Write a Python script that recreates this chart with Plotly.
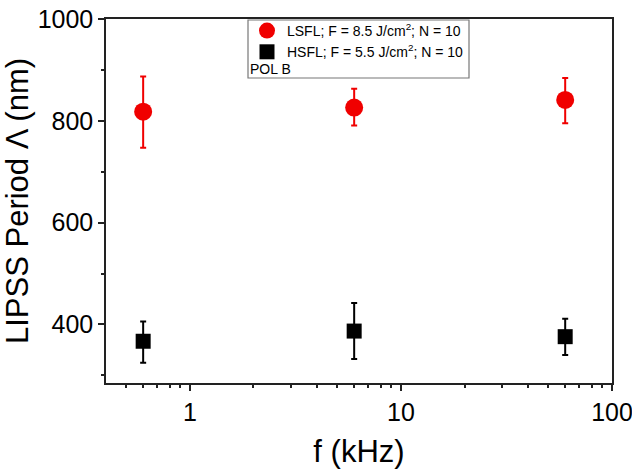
import numpy as np
import plotly.graph_objects as go

freq = [0.6, 6, 60]
lsfl = [818, 826, 841]
lsfl_up = [69, 37, 43]
lsfl_dn = [71, 35, 46]
hsfl = [367, 387, 376]
hsfl_up = [39, 55, 35]
hsfl_dn = [42, 55, 36]

lsfl_name = "LSFL; F = 8.5 J/cm<sup>2</sup>; N = 10"
hsfl_name = "HSFL; F = 5.5 J/cm<sup>2</sup>; N = 10"

fig = go.Figure()
fig.add_trace(go.Scatter(
    x=freq, y=lsfl, mode="markers", name=lsfl_name,
    marker=dict(symbol="circle", size=18, color="#f00000"),
    error_y=dict(type="data", array=lsfl_up, arrayminus=lsfl_dn,
                 color="#f00000", thickness=2, width=3),
))
fig.add_trace(go.Scatter(
    x=freq, y=hsfl, mode="markers", name=hsfl_name,
    marker=dict(symbol="square", size=15, color="black"),
    error_y=dict(type="data", array=hsfl_up, arrayminus=hsfl_dn,
                 color="black", thickness=2, width=3),
))

font_family = "Arial, Liberation Sans, sans-serif"
axis_common = dict(
    showline=True, linecolor="#222", linewidth=1.5, mirror=True,
    ticks="outside", ticklen=6, tickwidth=1.5, tickcolor="#222",
    showgrid=False, zeroline=False, automargin=False,
    ticklabeloverflow="allow",
    tickfont=dict(size=25, color="black", family=font_family),
)

fig.update_xaxes(
    type="log", range=[np.log10(0.4), 2],
    tickvals=[1, 10, 100], ticktext=["1", "10", "100"],
    minor=dict(ticks="outside", ticklen=3, tickwidth=1.5, tickcolor="#222",
               tickvals=[0.5, 0.6, 0.7, 0.8, 0.9, 2, 3, 4, 5, 6, 7, 8, 9,
                         20, 30, 40, 50, 60, 70, 80, 90]),
    title=dict(text="f (kHz)", font=dict(size=31, color="black", family=font_family),
               standoff=17),
    **axis_common,
)
fig.update_yaxes(
    range=[285, 1000],
    tickvals=[400, 600, 800, 1000],
    minor=dict(ticks="outside", ticklen=3, tickwidth=1.5, tickcolor="#222",
               tickvals=[300, 500, 700, 900]),
    title=dict(text="LIPSS Period Λ (nm)", font=dict(size=31, color="black", family=font_family),
               standoff=8),
    **axis_common,
)

fig.add_shape(type="rect", xref="paper", yref="paper",
              x0=(248 - 106) / 506, x1=(469 - 106) / 506,
              y0=1 - (78 - 19) / 364, y1=1 - (20 - 19) / 364,
              line=dict(color="#777", width=1.2), fillcolor="rgba(0,0,0,0)")
fig.add_annotation(text="POL B", xref="paper", yref="paper",
                   x=(248 - 106) / 506, y=1 - (69 - 19) / 364,
                   xanchor="left", yanchor="middle", showarrow=False,
                   font=dict(size=14, color="black", family=font_family))

fig.update_layout(
    width=632, height=469,
    margin=dict(l=106, r=20, t=19, b=86, autoexpand=False),
    plot_bgcolor="white", paper_bgcolor="white",
    showlegend=True,
    legend=dict(x=(247 - 106) / 506, y=1 + (4) / 364, xanchor="left", yanchor="top",
                bgcolor="rgba(0,0,0,0)", borderwidth=0,
                font=dict(size=14, color="black", family=font_family),
                tracegroupgap=0, itemsizing="trace"),
    font=dict(family=font_family),
)

fig.write_html("out.html", config={"displayModeBar": False},
               post_script="document.body.style.margin='0px';document.body.style.overflow='hidden';")
